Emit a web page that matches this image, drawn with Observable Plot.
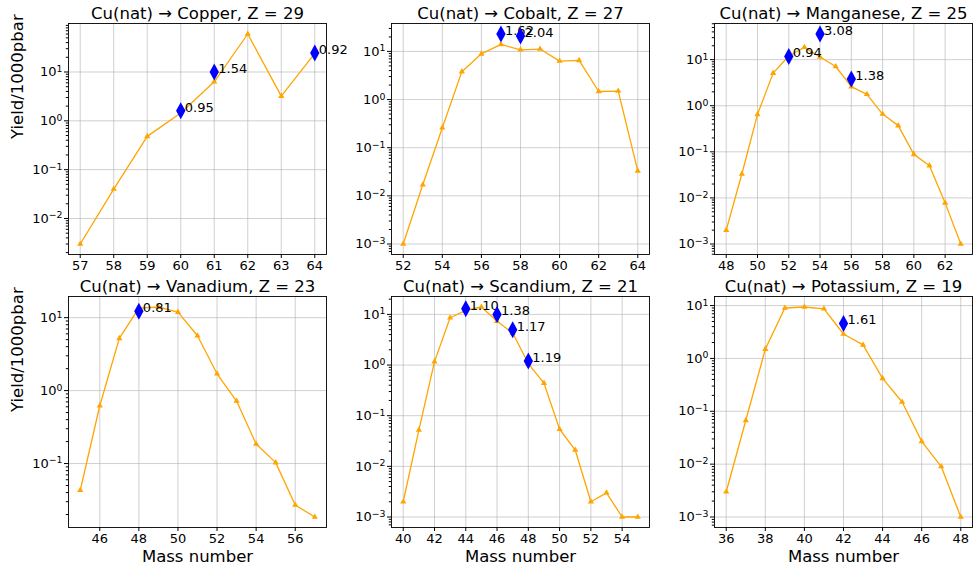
<!DOCTYPE html>
<html>
<head>
<meta charset="utf-8">
<script src="https://cdn.jsdelivr.net/npm/d3@7"></script>
<script src="https://cdn.jsdelivr.net/npm/@observablehq/plot@0.6"></script>
<style>
  html, body { margin: 0; padding: 0; background: #fff; }
  #root { position: relative; width: 973px; height: 568px; overflow: hidden; font-family: "DejaVu Sans", sans-serif; }
  #root > svg { position: absolute; }
</style>
</head>
<body>
<div id="root"></div>
<script>
// ---------- data ----------
const copperTitle = "Cu(nat) \u2192 Copper, Z = 29";
const copperA = [57, 58, 59, 60, 61, 62, 63, 64];
const copperY = [0.003, 0.04, 0.48, 1.45, 6.3, 60, 3.2, 24];
const copperHiA = [60, 61, 64];
const copperHiY = [1.6, 10, 24.5];
const copperHiL = ["0.95", "1.54", "0.92"];
const copperXT = [57, 58, 59, 60, 61, 62, 63, 64];

const cobaltTitle = "Cu(nat) \u2192 Cobalt, Z = 27";
const cobaltA = [52, 53, 54, 55, 56, 57, 58, 59, 60, 61, 62, 63, 64];
const cobaltY = [0.001, 0.017, 0.26, 3.8, 8.9, 14, 10.8, 11.2, 6.3, 6.5, 1.47, 1.5, 0.033];
const cobaltHiA = [57, 58];
const cobaltHiY = [23, 21];
const cobaltHiL = ["1.62", "2.04"];
const cobaltXT = [52, 54, 56, 58, 60, 62, 64];

const manganeseTitle = "Cu(nat) \u2192 Manganese, Z = 25";
const manganeseA = [48, 49, 50, 51, 52, 53, 54, 55, 56, 57, 58, 59, 60, 61, 62, 63];
const manganeseY = [0.002, 0.033, 0.65, 5.1, 12, 18.5, 11.4, 7.1, 2.6, 1.77, 0.66, 0.37, 0.088, 0.05, 0.0078, 0.001];
const manganeseHiA = [52, 54, 56];
const manganeseHiY = [11.7, 36, 3.8];
const manganeseHiL = ["0.94", "3.08", "1.38"];
const manganeseXT = [48, 50, 52, 54, 56, 58, 60, 62];

const vanadiumTitle = "Cu(nat) \u2192 Vanadium, Z = 23";
const vanadiumA = [45, 46, 47, 48, 49, 50, 51, 52, 53, 54, 55, 56, 57];
const vanadiumY = [0.043, 0.62, 5.2, 13.5, 14, 11.9, 5.65, 1.7, 0.72, 0.185, 0.103, 0.027, 0.0185];
const vanadiumHiA = [48];
const vanadiumHiY = [12.2];
const vanadiumHiL = ["0.81"];
const vanadiumXT = [46, 48, 50, 52, 54, 56];

const scandiumTitle = "Cu(nat) \u2192 Scandium, Z = 21";
const scandiumA = [40, 41, 42, 43, 44, 45, 46, 47, 48, 49, 50, 51, 52, 53, 54, 55];
const scandiumY = [0.002, 0.052, 1.17, 8.6, 12, 14, 7.3, 4.3, 1.07, 0.44, 0.054, 0.021, 0.002, 0.003, 0.001, 0.001];
const scandiumHiA = [44, 46, 47, 48];
const scandiumHiY = [13, 10, 5, 1.2];
const scandiumHiL = ["1.10", "1.38", "1.17", "1.19"];
const scandiumXT = [40, 42, 44, 46, 48, 50, 52, 54];

const potassiumTitle = "Cu(nat) \u2192 Potassium, Z = 19";
const potassiumA = [36, 37, 38, 39, 40, 41, 42, 43, 44, 45, 46, 47, 48];
const potassiumY = [0.003, 0.067, 1.5, 9.0, 9.4, 8.7, 2.9, 1.8, 0.42, 0.15, 0.027, 0.009, 0.001];
const potassiumHiA = [42];
const potassiumHiY = [4.6];
const potassiumHiL = ["1.61"];
const potassiumXT = [36, 38, 40, 42, 44, 46, 48];

const yLabel = "Yield/1000pbar";
const xLabel = "Mass number";

// ---------- layout ----------
const panels = [
  {title: copperTitle, A: copperA, Y: copperY, hA: copperHiA, hY: copperHiY, hL: copperHiL, xt: copperXT, col: 0, row: 0},
  {title: cobaltTitle, A: cobaltA, Y: cobaltY, hA: cobaltHiA, hY: cobaltHiY, hL: cobaltHiL, xt: cobaltXT, col: 1, row: 0},
  {title: manganeseTitle, A: manganeseA, Y: manganeseY, hA: manganeseHiA, hY: manganeseHiY, hL: manganeseHiL, xt: manganeseXT, col: 2, row: 0},
  {title: vanadiumTitle, A: vanadiumA, Y: vanadiumY, hA: vanadiumHiA, hY: vanadiumHiY, hL: vanadiumHiL, xt: vanadiumXT, col: 0, row: 1},
  {title: scandiumTitle, A: scandiumA, Y: scandiumY, hA: scandiumHiA, hY: scandiumHiY, hL: scandiumHiL, xt: scandiumXT, col: 1, row: 1},
  {title: potassiumTitle, A: potassiumA, Y: potassiumY, hA: potassiumHiA, hY: potassiumHiY, hL: potassiumHiL, xt: potassiumXT, col: 2, row: 1}
];

const colLeft = [68, 391, 714];
const rowTop = [23, 296];
const FW = 258, FH = 231;
const ML = 68, MT = 23, MR = 1, MB = 41;

const fmtLog = v => "10^" + Math.round(Math.log10(v));

const thinDiamond = {
  draw(context, size) {
    const h = Math.sqrt(size / Math.PI);
    const w = h * 0.55;
    context.moveTo(0, -h);
    context.lineTo(w, 0);
    context.lineTo(0, h);
    context.lineTo(-w, 0);
    context.closePath();
  }
};

const gridStyle = {stroke: "#b0b0b0", strokeOpacity: 0.6, strokeWidth: 1};
const root = document.getElementById("root");
const NS = "http://www.w3.org/2000/svg";

for (const p of panels) {
  const xs = p.A.concat(p.hA);
  const xmin = d3.min(xs), xmax = d3.max(xs);
  const xpad = 0.05 * (xmax - xmin);
  const ls = p.Y.concat(p.hY).map(Math.log10);
  const lmin = d3.min(ls), lmax = d3.max(ls);
  const lpad = 0.05 * (lmax - lmin);
  const ylo = Math.pow(10, lmin - lpad), yhi = Math.pow(10, lmax + lpad);
  const majors = [], minors = [];
  for (let e = Math.floor(lmin - lpad); e <= Math.ceil(lmax + lpad); e++) {
    const m = Math.pow(10, e);
    if (m >= ylo && m <= yhi) majors.push(m);
    for (let k = 2; k <= 9; k++) {
      const v = k * m;
      if (v >= ylo && v <= yhi) minors.push(v);
    }
  }

  const marks = [
    Plot.gridX({ticks: p.xt, ...gridStyle}),
    Plot.gridY({ticks: majors, ...gridStyle}),
    Plot.line(p.A, {x: p.A, y: p.Y, stroke: "#FFA500", strokeWidth: 1.3}),
    Plot.dot(p.A, {x: p.A, y: p.Y, symbol: "triangle", fill: "#FFA500", r: 2.3})
  ];
  p.hA.forEach((a, i) => {
    marks.push(Plot.dot([a], {x: [a], y: [p.hY[i]], symbol: thinDiamond, fill: "#0000FF", r: 8.5}));
    marks.push(Plot.text([a], {x: [a], y: [p.hY[i]], text: [p.hL[i]], textAnchor: "start", lineAnchor: "bottom", dx: 4, dy: 1, fontSize: 13, fill: "#000"}));
  });
  marks.push(
    Plot.frame({stroke: "#000", strokeWidth: 0.9}),
    Plot.axisX({ticks: p.xt, tickSize: 4, tickPadding: 2, fontSize: 13, label: null, tickFormat: d => String(d)}),
    Plot.axisY({ticks: majors, tickSize: 4, tickPadding: 2, fontSize: 13, label: null, tickFormat: fmtLog}),
    Plot.axisY({ticks: minors, tickSize: 2.2, label: null, tickFormat: () => ""}),
    Plot.text([p.title], {frameAnchor: "top", text: d => d, dy: -10, lineAnchor: "middle", fontSize: 16.5, fill: "#000"})
  );
  if (p.col === 0) {
    marks.push(Plot.text([yLabel], {frameAnchor: "left", text: d => d, rotate: -90, dx: -51, lineAnchor: "middle", fontSize: 16.5, fill: "#000"}));
  }
  if (p.row === 1) {
    marks.push(Plot.text([xLabel], {frameAnchor: "bottom", text: d => d, dy: 29, lineAnchor: "middle", fontSize: 16.5, fill: "#000"}));
  }

  const chart = Plot.plot({
    width: ML + FW + MR,
    height: MT + FH + MB,
    marginLeft: ML, marginTop: MT, marginRight: MR, marginBottom: MB,
    style: {background: "transparent", overflow: "visible", fontFamily: "DejaVu Sans", fontSize: "13px", color: "#000"},
    x: {domain: [xmin - xpad, xmax + xpad]},
    y: {type: "log", domain: [ylo, yhi]},
    marks
  });

  // render "10^e" tick labels with a real superscript exponent (like matplotlib mathtext)
  chart.querySelectorAll("text").forEach(t => {
    const m = /^10\^(-?\d+)$/.exec(t.textContent);
    if (!m) return;
    t.textContent = "10";
    const s = document.createElementNS(NS, "tspan");
    s.setAttribute("dy", "-0.45em");
    s.setAttribute("font-size", "0.72em");
    s.textContent = m[1].replace("-", "\u2212");
    t.appendChild(s);
  });

  chart.style.left = (colLeft[p.col] - ML) + "px";
  chart.style.top = (rowTop[p.row] - MT) + "px";
  root.appendChild(chart);
}
</script>
</body>
</html>
